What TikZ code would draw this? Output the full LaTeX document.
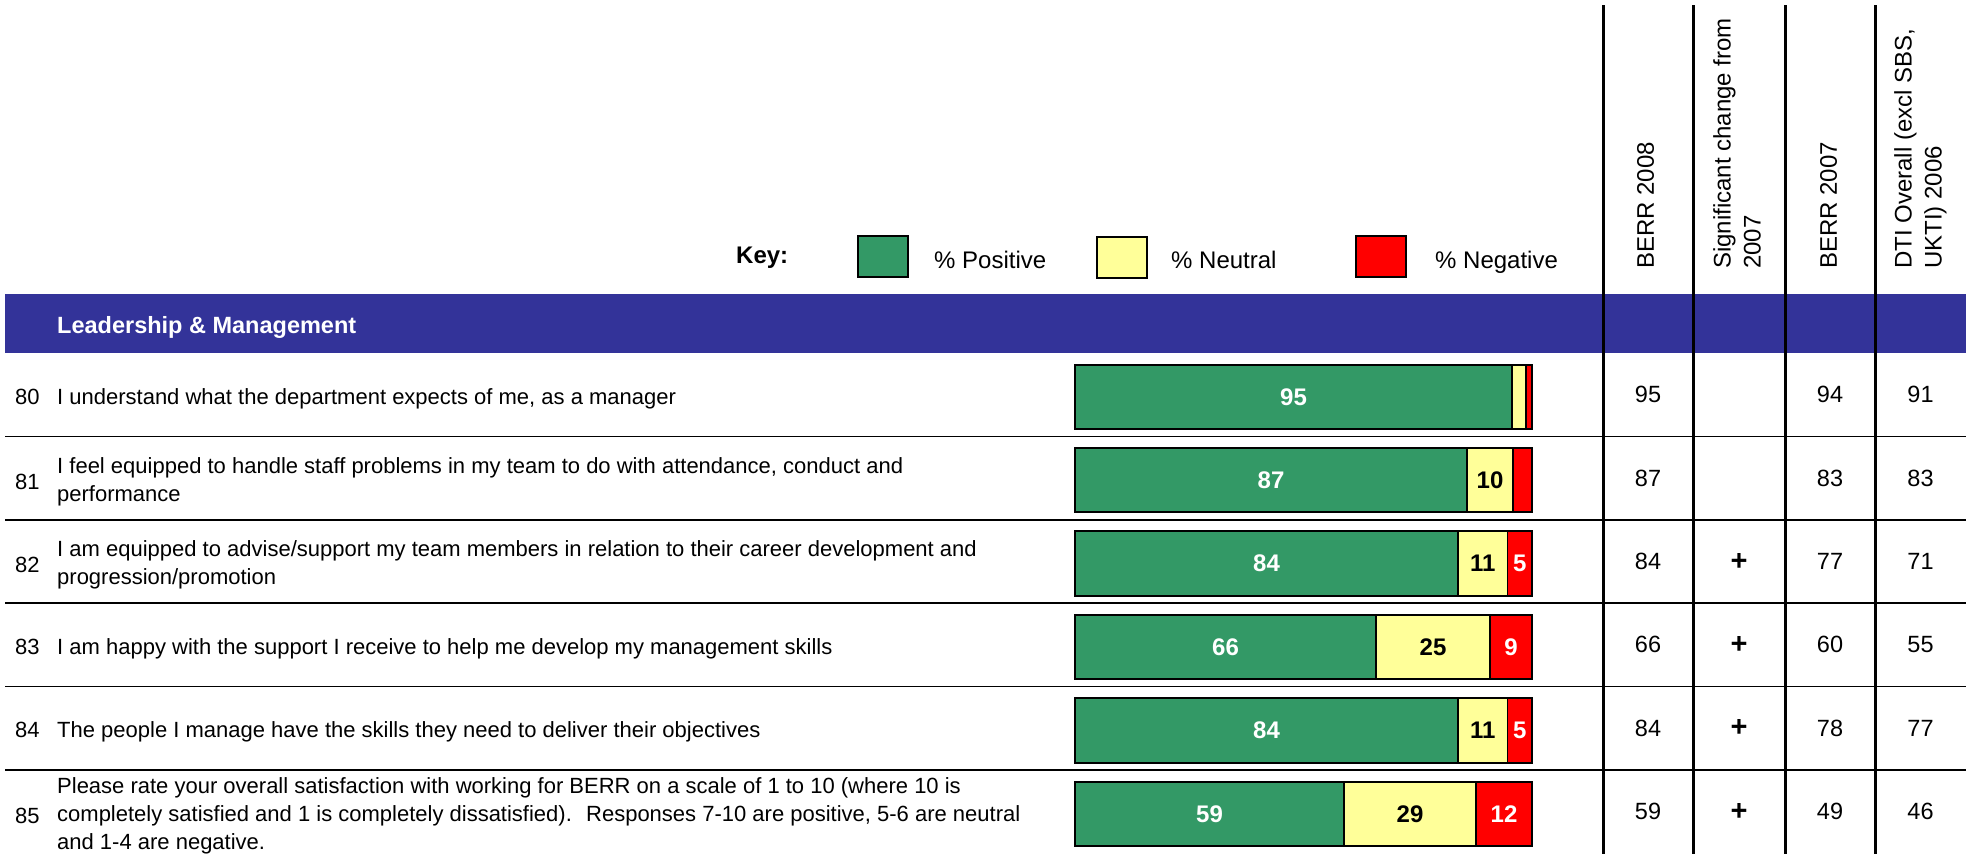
\documentclass[tikz,border=0pt]{standalone}
\usepackage{fontspec}
\setmainfont{Liberation Sans}
\definecolor{pos}{HTML}{339966}
\definecolor{neu}{HTML}{FFFF99}
\definecolor{neg}{HTML}{FF0000}
\definecolor{band}{HTML}{333399}
\begin{document}
\begin{tikzpicture}[x=1pt,y=-1pt,
  qtext/.style={font=\fontsize{22}{28}\selectfont, inner sep=0pt, align=left},
  hdr/.style={font=\fontsize{24}{30}\selectfont, inner sep=0pt, align=left, rotate=90, anchor=north west},
  keylab/.style={font=\fontsize{24}{28}\selectfont, inner sep=0pt, anchor=base west},
  keybox/.style={draw=black, line width=2pt, minimum width=50pt, minimum height=41pt, inner sep=0pt},
  barlab/.style={font=\fontsize{24}{28}\selectfont\bfseries, inner sep=0pt},
  tval/.style={font=\fontsize{23.5}{28}\selectfont, inner sep=0pt},
  seg/.style={draw=black, line width=1.5pt},
  rowrule/.style={draw=black, line width=1.6pt},
  colrule/.style={draw=black, line width=3pt}
]
\useasboundingbox (0,0) rectangle (1966,854);
\fill[white] (0,0) rectangle (1966,854);

% column headers
\node[hdr] (h1) at (1637,269) {BERR 2008};
\node[hdr] (h2) at (1713,269) {Significant change from\\2007};
\node[hdr] (h3) at (1820,269) {BERR 2007};
\node[hdr] (h4) at (1894,269) {DTI Overall (excl SBS,\\UKTI) 2006};

% key
\node[font=\fontsize{24}{28}\selectfont\bfseries, inner sep=0pt, anchor=base west] (key) at (736,263) {Key:};
\node[keybox, fill=pos] (kpos) at (883,256.5) {};
\node[keylab] (lpos) at (934,268) {\% Positive};
\node[keybox, fill=neu] (kneu) at (1121.5,257.5) {};
\node[keylab] (lneu) at (1171,268) {\% Neutral};
\node[keybox, fill=neg] (kneg) at (1381,256) {};
\node[keylab] (lneg) at (1435,268) {\% Negative};

% section band
\fill[band] (5,294) rectangle (1966,353);
\node[font=\fontsize{23.5}{28}\selectfont\bfseries, text=white, inner sep=0pt, anchor=base west] (sect) at (57,333) {Leadership \& Management};

% row rules
\foreach \r in {1,...,5}{
  \pgfmathsetmacro\ys{353+83.4*\r}
  \draw[rowrule] (5,\ys) -- (1966,\ys);
}

% bars
\foreach \r/\ge/\ye/\gl/\yl/\rl in {0/1512/1526/95//, 1/1467/1513/87/10/, 2/1458/1507.5/84/11/5, 3/1376/1490/66/25/9, 4/1458/1507.5/84/11/5, 5/1344/1476/59/29/12}{
  \pgfmathsetmacro\yt{353+83.4*\r+11.5}
  \pgfmathsetmacro\yb{353+83.4*\r+76}
  \pgfmathsetmacro\ym{353+83.4*\r+43.75}
  \filldraw[seg, fill=pos] (1075,\yt) rectangle (\ge,\yb);
  \filldraw[seg, fill=neu] (\ge,\yt) rectangle (\ye,\yb);
  \filldraw[seg, fill=neg] (\ye,\yt) rectangle (1532,\yb);
  \draw[line width=2pt] (1075,\yt) rectangle (1532,\yb);
  \node[barlab, text=white] (g\r) at ({(1075+\ge)/2},\ym) {\gl};
  \node[barlab, text=black] (y\r) at ({(\ge+\ye)/2},\ym) {\yl};
  \node[barlab, text=white] (n\r) at ({(\ye+1532)/2},\ym) {\rl};
}

% table values
\foreach \r/\a/\b/\c/\d in {0/95//94/91, 1/87//83/83, 2/84/+/77/71, 3/66/+/60/55, 4/84/+/78/77, 5/59/+/49/46}{
  \pgfmathsetmacro\ym{353+83.4*\r+41.7}
  \node[tval] (a\r) at (1648,\ym) {\a};
  \node[tval, font=\fontsize{29}{30}\selectfont\bfseries] (b\r) at (1739,\ym) {\b};
  \node[tval] (c\r) at (1830,\ym) {\c};
  \node[tval] (d\r) at (1920.5,\ym) {\d};
}

% questions
\node[qtext, anchor=base west] (n80) at (15,404) {80};
\node[qtext, anchor=base west] (q80) at (57,404) {I understand what the department expects of me, as a manager};
\node[qtext, anchor=base west] (n81) at (15,489) {81};
\node[qtext, anchor=west] (q81) at (57,482) {I feel equipped to handle staff problems in my team to do with attendance, conduct and\\performance};
\node[qtext, anchor=base west] (n82) at (15,572) {82};
\node[qtext, anchor=west] (q82) at (57,565) {I am equipped to advise/support my team members in relation to their career development and\\progression/promotion};
\node[qtext, anchor=base west] (n83) at (15,654) {83};
\node[qtext, anchor=base west] (q83) at (57,654) {I am happy with the support I receive to help me develop my management skills};
\node[qtext, anchor=base west] (n84) at (15,737) {84};
\node[qtext, anchor=base west] (q84) at (57,737) {The people I manage have the skills they need to deliver their objectives};
\node[qtext, anchor=base west] (n85) at (15,823) {85};
\node[qtext, anchor=west] (q85) at (57,816) {Please rate your overall satisfaction with working for BERR on a scale of 1 to 10 (where 10 is\\completely satisfied and 1 is completely dissatisfied).~ Responses 7-10 are positive, 5-6 are neutral\\and 1-4 are negative.};

% column rules
\foreach \x in {1603,1693,1785,1875}{
  \draw[colrule] (\x,5) -- (\x,854);
}
\end{tikzpicture}
\end{document}
